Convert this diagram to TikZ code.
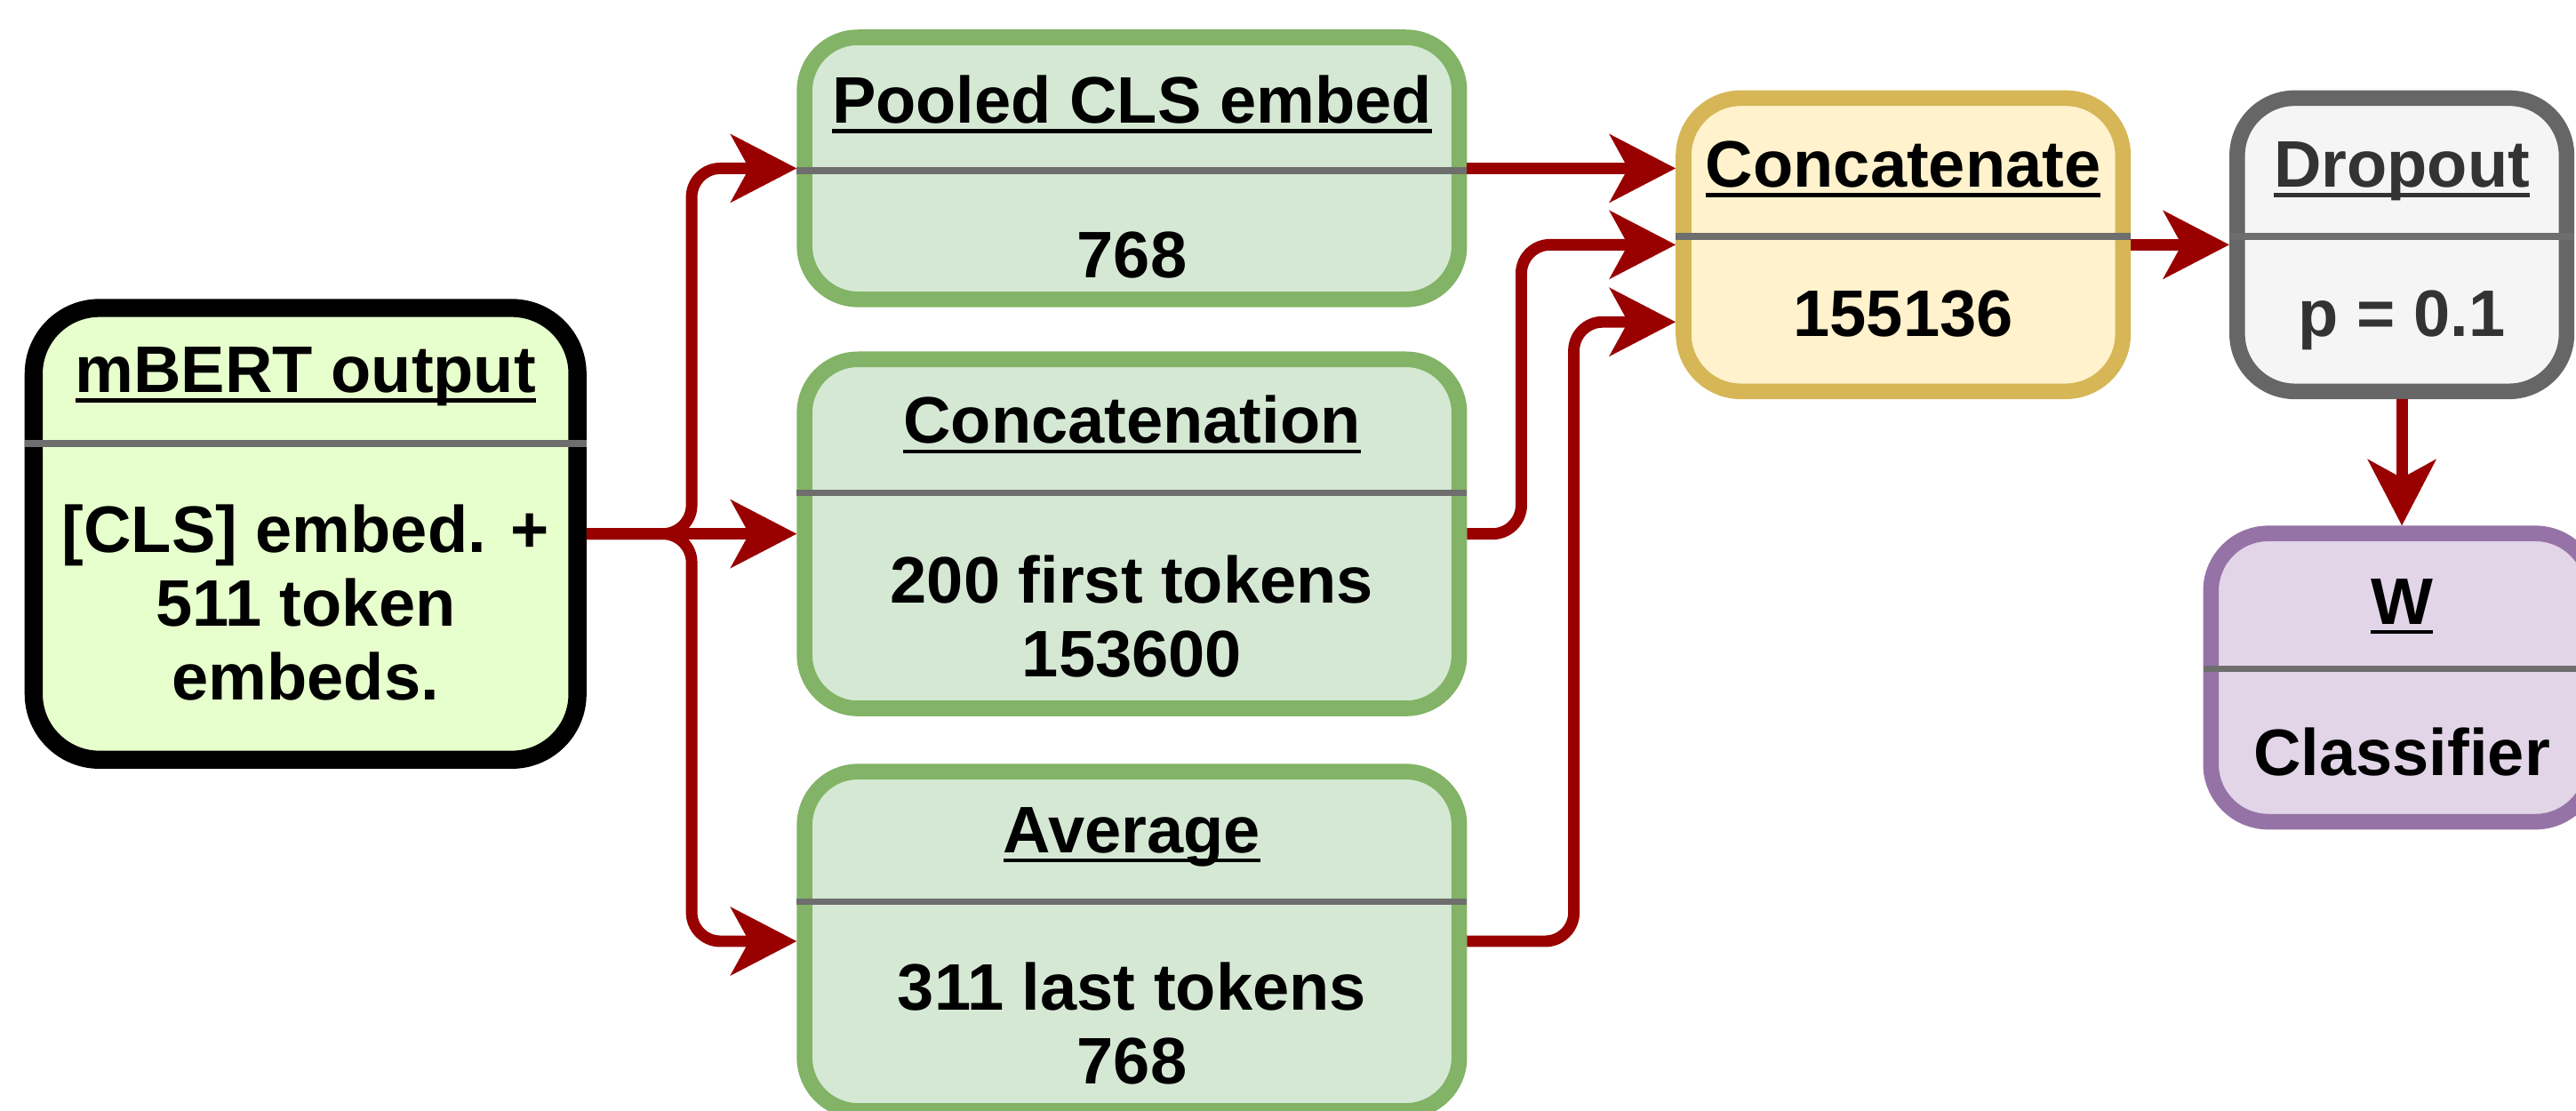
\documentclass[tikz,border=0pt]{standalone}
\usepackage{fontspec}
\setmainfont{Liberation Sans}
\usetikzlibrary{arrows.meta,positioning}

\definecolor{mbertfill}{HTML}{E6FFCC}
\definecolor{greenfill}{HTML}{D5E8D4}
\definecolor{greenedge}{HTML}{82B366}
\definecolor{yellowfill}{HTML}{FFF2CC}
\definecolor{yellowedge}{HTML}{D6B656}
\definecolor{grayfill}{HTML}{F5F5F5}
\definecolor{grayedge}{HTML}{666666}
\definecolor{graytext}{HTML}{333333}
\definecolor{purplefill}{HTML}{E1D5E7}
\definecolor{purpleedge}{HTML}{9673A6}
\definecolor{linkred}{HTML}{990000}
\definecolor{dividergray}{HTML}{6E6E6E}

% underlined header text, rule crosses the descenders
\newcommand{\ulinetitle}[1]{\setbox0=\hbox{#1}\rlap{\vrule height -0.09em depth 0.15em width \wd0}\box0}

\begin{document}
\begin{tikzpicture}[
  every node/.style={font=\fontsize{22.8}{25.5}\selectfont\bfseries},
  layer/.style={draw, line width=0.19cm, rounded corners=0.65cm, inner sep=0pt},
  greenbox/.style={layer, draw=greenedge, fill=greenfill, minimum width=7.97cm},
  divider/.style={draw=dividergray, line width=0.08cm},
  link/.style={draw=linkred, line width=0.14cm, rounded corners=0.35cm,
    -{Stealth[length=0.8cm, width=0.82cm, inset=0.22cm]}}
]
  \useasboundingbox (0,0) rectangle (31.36,13.52);
  \clip (0,0) rectangle (31.36,13.52);

  % encoder output
  \node[layer, draw=black, fill=mbertfill, line width=0.22cm, rounded corners=0.8cm,
    minimum width=6.62cm, minimum height=5.50cm] (mbert) at (3.72,7.02) {};
  \draw[divider] (mbert.west |- 0,8.12) -- (mbert.east |- 0,8.12);
  \node[anchor=base] (mbert-t) at (3.72,8.74) {\ulinetitle{mBERT output}};
  \node[anchor=base, align=center] (mbert-b) at (3.72,5.00) {[CLS] embed. +\\511 token\\embeds.};

  % three poolings
  \node[greenbox, minimum height=3.19cm] (pooled) at (13.78,11.47) {};
  \draw[divider] (pooled.west |- 0,11.44) -- (pooled.east |- 0,11.44);
  \node[anchor=base] (pooled-t) at (13.78,12.02) {\ulinetitle{Pooled CLS embed}};
  \node[anchor=base] (pooled-b) at (13.78,10.14) {768};

  \node[greenbox, minimum height=4.25cm] (concat) at (13.78,7.02) {};
  \draw[divider] (concat.west |- 0,7.52) -- (concat.east |- 0,7.52);
  \node[anchor=base] (concat-t) at (13.78,8.12) {\ulinetitle{Concatenation}};
  \node[anchor=base, align=center] (concat-b) at (13.78,5.28) {200 first tokens\\153600};

  \node[greenbox, minimum height=4.13cm] (avg) at (13.78,2.06) {};
  \draw[divider] (avg.west |- 0,2.54) -- (avg.east |- 0,2.54);
  \node[anchor=base] (avg-t) at (13.78,3.14) {\ulinetitle{Average}};
  \node[anchor=base, align=center] (avg-b) at (13.78,0.32) {311 last tokens\\768};

  % merge, dropout, classifier
  \node[layer, draw=yellowedge, fill=yellowfill, rounded corners=0.7cm,
    minimum width=5.35cm, minimum height=3.57cm] (joined) at (23.17,10.54) {};
  \draw[divider] (joined.west |- 0,10.64) -- (joined.east |- 0,10.64);
  \node[anchor=base] (joined-t) at (23.17,11.24) {\ulinetitle{Concatenate}};
  \node[anchor=base] (joined-b) at (23.17,9.42) {155136};

  \node[layer, draw=grayedge, fill=grayfill, rounded corners=0.7cm,
    minimum width=4.01cm, minimum height=3.57cm] (drop) at (29.24,10.54) {};
  \draw[divider] (drop.west |- 0,10.64) -- (drop.east |- 0,10.64);
  \node[anchor=base, text=graytext] (drop-t) at (29.24,11.24) {\ulinetitle{Dropout}};
  \node[anchor=base, text=graytext] (drop-b) at (29.24,9.42) {p = 0.1};

  \node[layer, draw=purpleedge, fill=purplefill, rounded corners=0.7cm,
    minimum width=4.65cm, minimum height=3.51cm] (clf) at (29.24,5.27) {};
  \draw[divider] (clf.west |- 0,5.38) -- (clf.east |- 0,5.38);
  \node[anchor=base] (clf-t) at (29.24,5.92) {\ulinetitle{W}};
  \node[anchor=base] (clf-b) at (29.24,4.08) {Classifier};

  % connectors
  \coordinate (split) at (8.42,7.02);
  \coordinate (in-low) at ([yshift=-0.94cm]joined.west);
  \draw[link] (mbert.east) -- (split) |- (pooled.west);
  \draw[link] (mbert.east) -- (concat.west);
  \draw[link] (mbert.east) -- (split) |- (avg.west);
  \draw[link] (pooled.east) -- (pooled.east -| joined.west);
  \draw[link] (concat.east) -- ++(0.66,0) |- (joined.west);
  \draw[link] (avg.east) -- ++(1.30,0) |- (in-low);
  \draw[link] (joined.east) -- (drop.west);
  \draw[link] (drop.south) -- (clf.north);
\end{tikzpicture}
\end{document}
